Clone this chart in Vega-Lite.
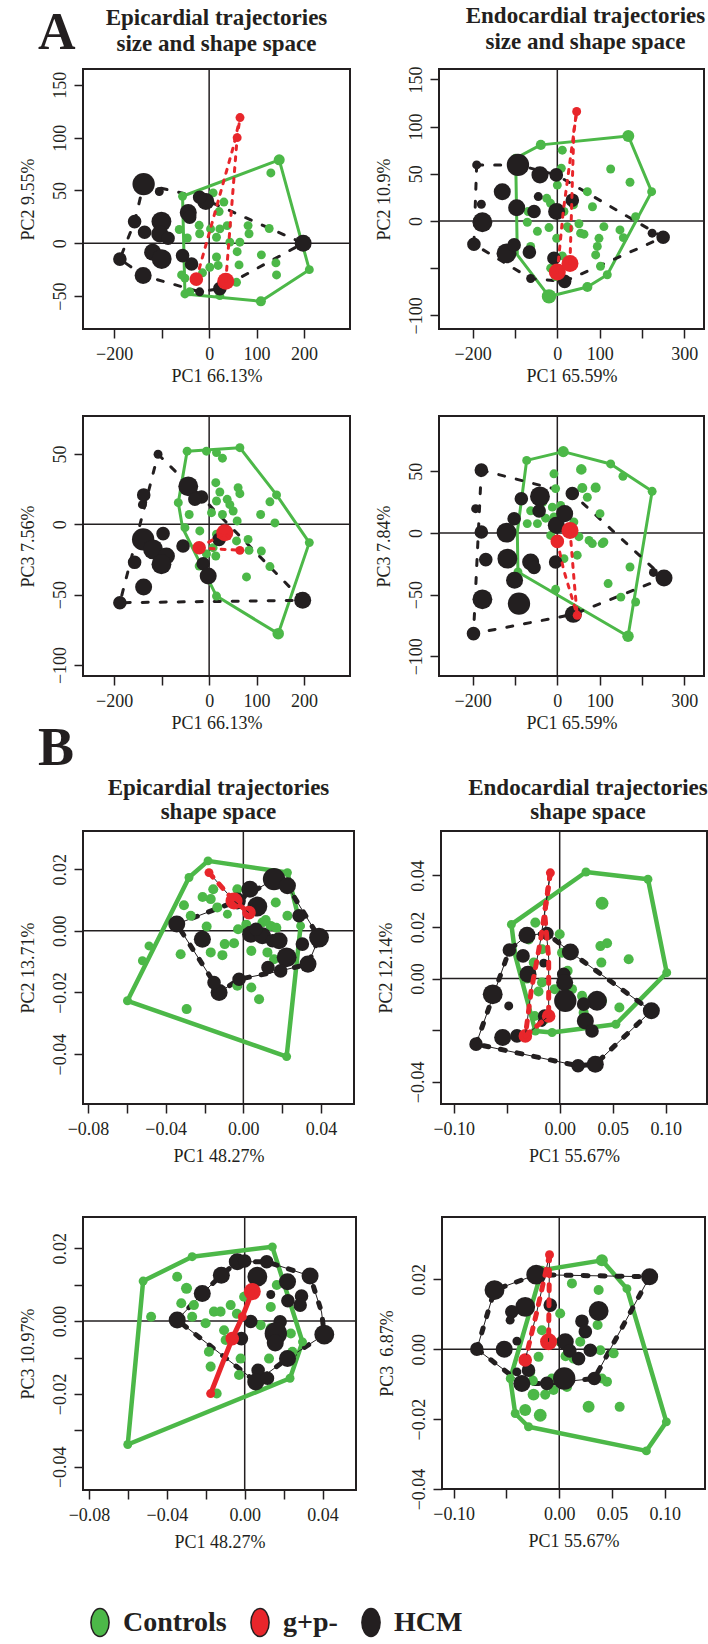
{
"$schema":"https://vega.github.io/schema/vega-lite/v6.json",
"padding":{"left":17,"top":3,"right":0,"bottom":0},
"background":"white",
"config":{
 "view":{"stroke":"#231f20","strokeWidth":2},
 "title":{"font":"Liberation Serif","fontSize":23,"fontWeight":"bold","color":"#231f20","lineHeight":26,"anchor":"middle"},
 "legend":{"labelFont":"Liberation Serif","labelFontWeight":"bold","labelFontSize":28,"labelColor":"#231f20"},
 "axis":{"domain":false,"grid":false,"tickColor":"#231f20","tickWidth":1.5,"tickSize":9,"labelFont":"Liberation Serif","labelFontSize":18,"labelColor":"#231f20","labelPadding":7,"labelFlush":false,"labelOverlap":false,"titleFont":"Liberation Serif","titleFontSize":18,"titleFontWeight":"normal","titleColor":"#231f20","titlePadding":4},
 "axisY":{"labelAngle":-90,"labelAlign":"center","labelBaseline":"bottom","labelPadding":5,"titlePadding":14}
},
"datasets":{
"p1":[
{"g":"Controls","x":147.6,"y":79,"w":1.4},{"g":"Controls","x":130,"y":66.6,"w":1},{"g":"Controls","x":-56,"y":44.5,"w":1},{"g":"Controls","x":8.4,"y":47.7,"w":1},{"g":"Controls","x":31,"y":39,"w":1},{"g":"Controls","x":21,"y":30,"w":1},{"g":"Controls","x":-21,"y":17,"w":1},{"g":"Controls","x":3,"y":13.6,"w":1},{"g":"Controls","x":22.5,"y":13.6,"w":1},{"g":"Controls","x":38,"y":16.7,"w":1},{"g":"Controls","x":-63,"y":13,"w":1},{"g":"Controls","x":-46,"y":5,"w":1},{"g":"Controls","x":-20,"y":9,"w":1},{"g":"Controls","x":15.5,"y":5.7,"w":1},{"g":"Controls","x":43.6,"y":1,"w":1},{"g":"Controls","x":64.7,"y":1,"w":1},{"g":"Controls","x":84,"y":9,"w":1},{"g":"Controls","x":82,"y":16.7,"w":1},{"g":"Controls","x":126.5,"y":14,"w":1},{"g":"Controls","x":110,"y":-11,"w":1},{"g":"Controls","x":140.6,"y":-18.6,"w":1},{"g":"Controls","x":142,"y":-30,"w":1},{"g":"Controls","x":63,"y":-20.5,"w":1},{"g":"Controls","x":59,"y":-8,"w":1},{"g":"Controls","x":15.5,"y":-13,"w":1},{"g":"Controls","x":19,"y":-21,"w":1},{"g":"Controls","x":1.4,"y":-22.7,"w":1},{"g":"Controls","x":-14,"y":-28,"w":1},{"g":"Controls","x":-51,"y":-33,"w":1},{"g":"Controls","x":-41,"y":-46,"w":1},{"g":"Controls","x":22.5,"y":-49.6,"w":1},{"g":"Controls","x":57.7,"y":-37,"w":1},{"g":"Controls","x":109,"y":-55,"w":1.2},{"g":"Controls","x":211,"y":-25,"w":1},{"g":"Controls","x":-58,"y":-30,"w":1},{"g":"Controls","x":-45,"y":29,"w":1},{"g":"Controls","x":-51,"y":-48,"w":1},
{"g":"HCM","x":-138,"y":56,"w":5},{"g":"HCM","x":-105,"y":49,"w":1},{"g":"HCM","x":-7,"y":39.5,"w":3},{"g":"HCM","x":-20,"y":43.6,"w":2},{"g":"HCM","x":-44,"y":29,"w":3},{"g":"HCM","x":-41,"y":24.6,"w":2},{"g":"HCM","x":-157,"y":20.5,"w":2},{"g":"HCM","x":-136,"y":10.4,"w":2},{"g":"HCM","x":-100.5,"y":20.5,"w":4},{"g":"HCM","x":-104,"y":8.8,"w":3},{"g":"HCM","x":-86.5,"y":4.7,"w":2},{"g":"HCM","x":-119,"y":-8.5,"w":3},{"g":"HCM","x":-100,"y":-15,"w":4},{"g":"HCM","x":-56,"y":-11.7,"w":2},{"g":"HCM","x":-37,"y":-19.6,"w":2},{"g":"HCM","x":-188,"y":-15,"w":2},{"g":"HCM","x":-139,"y":-30.6,"w":3},{"g":"HCM","x":22.5,"y":-43,"w":2},{"g":"HCM","x":198,"y":0,"w":3},{"g":"HCM","x":-20,"y":-46,"w":1},
{"g":"g+p-","x":-27,"y":-34,"w":2},{"g":"g+p-","x":35,"y":-36,"w":3},{"g":"g+p-","x":65,"y":119,"w":1},{"g":"g+p-","x":59,"y":100,"w":1}],
"p1g":[{"o":1,"x":-56,"y":44.5},{"o":2,"x":147.6,"y":79},{"o":3,"x":211,"y":-25},{"o":4,"x":109,"y":-55},{"o":5,"x":-51,"y":-48},{"o":6,"x":-56,"y":44.5}],
"p1b":[{"o":1,"x":-138,"y":56},{"o":2,"x":-20,"y":43.6},{"o":3,"x":198,"y":0},{"o":4,"x":22.5,"y":-43},{"o":5,"x":-20,"y":-46},{"o":6,"x":-139,"y":-30.6},{"o":7,"x":-188,"y":-15},{"o":8,"x":-157,"y":20.5},{"o":9,"x":-138,"y":56}],
"p1r":[{"t":1,"o":1,"x":-27,"y":-34},{"t":1,"o":2,"x":52,"y":93},{"t":1,"o":3,"x":65,"y":119},{"t":2,"o":1,"x":35,"y":-36},{"t":2,"o":2,"x":59,"y":100},{"t":2,"o":3,"x":65,"y":119}],
"p2":[
{"g":"Controls","x":11.8,"y":75,"w":1},{"g":"Controls","x":126,"y":55,"w":1},{"g":"Controls","x":171.7,"y":41,"w":1},{"g":"Controls","x":71,"y":31,"w":1},{"g":"Controls","x":38,"y":17,"w":1},{"g":"Controls","x":83,"y":15,"w":1},{"g":"Controls","x":-25,"y":24,"w":1},{"g":"Controls","x":-16,"y":18.7,"w":1},{"g":"Controls","x":15.7,"y":10,"w":1},{"g":"Controls","x":-69,"y":10,"w":1},{"g":"Controls","x":-70.9,"y":-1.4,"w":1},{"g":"Controls","x":-47,"y":-11,"w":1},{"g":"Controls","x":-19.7,"y":-7,"w":1},{"g":"Controls","x":23.6,"y":-6,"w":1},{"g":"Controls","x":51,"y":-3,"w":1},{"g":"Controls","x":63,"y":-14,"w":1},{"g":"Controls","x":55,"y":-13,"w":1},{"g":"Controls","x":110,"y":-6,"w":1},{"g":"Controls","x":148,"y":-9.5,"w":1},{"g":"Controls","x":156,"y":-17.7,"w":1},{"g":"Controls","x":98.4,"y":-18.4,"w":1},{"g":"Controls","x":94.5,"y":-27,"w":1},{"g":"Controls","x":90.6,"y":-36,"w":1},{"g":"Controls","x":102,"y":-48,"w":1},{"g":"Controls","x":-1.6,"y":-18.4,"w":1},{"g":"Controls","x":-63,"y":-27,"w":1},{"g":"Controls","x":11.8,"y":-37,"w":1},{"g":"Controls","x":-15.7,"y":-50,"w":1},{"g":"Controls","x":-4,"y":-59,"w":1},{"g":"Controls","x":27.6,"y":-7.8,"w":1},{"g":"Controls","x":0,"y":38,"w":1},{"g":"Controls","x":9.4,"y":55.8,"w":1},{"g":"Controls","x":185,"y":4.6,"w":1},{"g":"Controls","x":-39,"y":80.6,"w":1.2},{"g":"Controls","x":167.7,"y":90,"w":1.6},{"g":"Controls","x":222.8,"y":31,"w":1},{"g":"Controls","x":118,"y":-57,"w":1},{"g":"Controls","x":71,"y":-70,"w":1.2},{"g":"Controls","x":-19.7,"y":-80,"w":2.2},{"g":"Controls","x":-98.4,"y":66.4,"w":1},
{"g":"HCM","x":-93,"y":59.4,"w":5},{"g":"HCM","x":-190.5,"y":59.4,"w":1},{"g":"HCM","x":-41,"y":48.8,"w":3},{"g":"HCM","x":-2.4,"y":48.8,"w":2},{"g":"HCM","x":-130,"y":31,"w":3},{"g":"HCM","x":-45,"y":25.8,"w":1},{"g":"HCM","x":-96,"y":14,"w":3},{"g":"HCM","x":-55,"y":10,"w":2},{"g":"HCM","x":-1.6,"y":10,"w":3},{"g":"HCM","x":35.4,"y":22,"w":2},{"g":"HCM","x":-179.5,"y":17.7,"w":1},{"g":"HCM","x":-177,"y":-1.4,"w":4},{"g":"HCM","x":-197,"y":-24.7,"w":2},{"g":"HCM","x":-120,"y":-34.3,"w":4},{"g":"HCM","x":-102,"y":-25.4,"w":2},{"g":"HCM","x":-66,"y":-33,"w":2},{"g":"HCM","x":-8,"y":-39.6,"w":2},{"g":"HCM","x":17.3,"y":-64,"w":2},{"g":"HCM","x":-63,"y":-61,"w":1},{"g":"HCM","x":250,"y":-17.3,"w":2},{"g":"HCM","x":224,"y":-13,"w":1},
{"g":"g+p-","x":45.7,"y":116,"w":1},{"g":"g+p-","x":0,"y":-54,"w":3},{"g":"g+p-","x":29.9,"y":-45,"w":3}],
"p2g":[{"o":1,"x":-98.4,"y":66.4},{"o":2,"x":-39,"y":80.6},{"o":3,"x":167.7,"y":90},{"o":4,"x":222.8,"y":31},{"o":5,"x":118,"y":-57},{"o":6,"x":71,"y":-70},{"o":7,"x":-19.7,"y":-80},{"o":8,"x":-94.5,"y":-36},{"o":9,"x":-98.4,"y":66.4}],
"p2b":[{"o":1,"x":-190.5,"y":59.4},{"o":2,"x":-93,"y":59.4},{"o":3,"x":-2.4,"y":48.8},{"o":4,"x":250,"y":-17.3},{"o":5,"x":17.3,"y":-64},{"o":6,"x":-63,"y":-61},{"o":7,"x":-197,"y":-24.7},{"o":8,"x":-190.5,"y":59.4}],
"p2r":[{"t":1,"o":1,"x":0,"y":-54},{"t":1,"o":2,"x":14,"y":10},{"t":1,"o":3,"x":45.7,"y":116},{"t":2,"o":1,"x":29.9,"y":-45},{"t":2,"o":2,"x":39,"y":95},{"t":2,"o":3,"x":45.7,"y":116}],
"p3":[
{"g":"Controls","x":-65,"y":15.4,"w":1},{"g":"Controls","x":-42,"y":7,"w":1},{"g":"Controls","x":-51,"y":-2.4,"w":1},{"g":"Controls","x":-19.7,"y":-4.7,"w":1},{"g":"Controls","x":-5.6,"y":52,"w":1},{"g":"Controls","x":15.5,"y":51,"w":1},{"g":"Controls","x":28,"y":47,"w":1},{"g":"Controls","x":14,"y":29.6,"w":1},{"g":"Controls","x":22.5,"y":23,"w":1},{"g":"Controls","x":15.5,"y":16.6,"w":1},{"g":"Controls","x":5,"y":8.3,"w":1},{"g":"Controls","x":38,"y":17.8,"w":1},{"g":"Controls","x":43.6,"y":14,"w":1},{"g":"Controls","x":50.6,"y":9.5,"w":1},{"g":"Controls","x":61,"y":26,"w":1},{"g":"Controls","x":64.7,"y":21.8,"w":1},{"g":"Controls","x":59,"y":2.4,"w":1},{"g":"Controls","x":28,"y":7,"w":1},{"g":"Controls","x":15.5,"y":-7,"w":1},{"g":"Controls","x":8.4,"y":-16.6,"w":1},{"g":"Controls","x":22.5,"y":-10.7,"w":1},{"g":"Controls","x":57.7,"y":-11.8,"w":1},{"g":"Controls","x":82,"y":-10.7,"w":1},{"g":"Controls","x":84,"y":-18.5,"w":1},{"g":"Controls","x":110,"y":-19,"w":1},{"g":"Controls","x":128,"y":16,"w":1},{"g":"Controls","x":108.5,"y":7,"w":1},{"g":"Controls","x":138.5,"y":1,"w":1},{"g":"Controls","x":128,"y":-30,"w":1},{"g":"Controls","x":78.7,"y":-37.4,"w":1},{"g":"Controls","x":14,"y":-22.5,"w":1},{"g":"Controls","x":-21,"y":-29.6,"w":1},{"g":"Controls","x":-5.6,"y":-21,"w":1},{"g":"Controls","x":-46.4,"y":52,"w":1},{"g":"Controls","x":64.7,"y":54.5,"w":1},{"g":"Controls","x":142,"y":20.9,"w":1},{"g":"Controls","x":211,"y":-13,"w":1},{"g":"Controls","x":145.5,"y":-77.7,"w":1.5},{"g":"Controls","x":15.5,"y":-51,"w":1},
{"g":"HCM","x":-107.6,"y":49.8,"w":1},{"g":"HCM","x":-137.8,"y":20.9,"w":2},{"g":"HCM","x":-140.6,"y":14,"w":1},{"g":"HCM","x":-44,"y":27,"w":4},{"g":"HCM","x":-16,"y":19.4,"w":2},{"g":"HCM","x":-30,"y":17.8,"w":2},{"g":"HCM","x":-139,"y":-10.7,"w":5},{"g":"HCM","x":-118,"y":-17.8,"w":4},{"g":"HCM","x":-97,"y":-6.6,"w":2},{"g":"HCM","x":-90,"y":-22.5,"w":3},{"g":"HCM","x":-100.5,"y":-28.4,"w":4},{"g":"HCM","x":-157,"y":-27,"w":2},{"g":"HCM","x":-138,"y":-44.5,"w":3},{"g":"HCM","x":-188,"y":-55.7,"w":2},{"g":"HCM","x":-55,"y":-15.4,"w":2},{"g":"HCM","x":-12.6,"y":-28,"w":2},{"g":"HCM","x":-2,"y":-36.7,"w":3},{"g":"HCM","x":21,"y":-10.7,"w":2},{"g":"HCM","x":197,"y":-54,"w":3},
{"g":"g+p-","x":-21,"y":-16.6,"w":2},{"g":"g+p-","x":33,"y":-6,"w":3},{"g":"g+p-","x":64.7,"y":-18.5,"w":1}],
"p3g":[{"o":1,"x":-46.4,"y":52},{"o":2,"x":64.7,"y":54.5},{"o":3,"x":142,"y":20.9},{"o":4,"x":211,"y":-13},{"o":5,"x":145.5,"y":-77.7},{"o":6,"x":15.5,"y":-51},{"o":7,"x":-56,"y":-2.4},{"o":8,"x":-65,"y":15.4},{"o":9,"x":-46.4,"y":52}],
"p3b":[{"o":1,"x":-107.6,"y":49.8},{"o":2,"x":-16,"y":19.4},{"o":3,"x":197,"y":-54},{"o":4,"x":-188,"y":-55.7},{"o":5,"x":-107.6,"y":49.8}],
"p3r":[{"t":1,"o":1,"x":-21,"y":-16.6},{"t":1,"o":2,"x":33,"y":-6},{"t":1,"o":3,"x":48,"y":-12},{"t":2,"o":1,"x":-21,"y":-16.6},{"t":2,"o":2,"x":64.7,"y":-18.5}],
"p4":[
{"g":"Controls","x":-8,"y":48,"w":1},{"g":"Controls","x":56.7,"y":51.6,"w":1.3},{"g":"Controls","x":59,"y":36.5,"w":1.2},{"g":"Controls","x":90.6,"y":36.8,"w":1.2},{"g":"Controls","x":70.9,"y":29,"w":1},{"g":"Controls","x":100.8,"y":15.7,"w":1},{"g":"Controls","x":-4,"y":36,"w":1},{"g":"Controls","x":-35,"y":24.6,"w":1},{"g":"Controls","x":7.9,"y":22.4,"w":1},{"g":"Controls","x":-11.8,"y":21,"w":1},{"g":"Controls","x":-63,"y":18,"w":1},{"g":"Controls","x":-71,"y":7.6,"w":1},{"g":"Controls","x":-47,"y":7.6,"w":1},{"g":"Controls","x":-27.6,"y":12,"w":1},{"g":"Controls","x":-8,"y":13,"w":1},{"g":"Controls","x":39,"y":9,"w":1},{"g":"Controls","x":20,"y":14,"w":1},{"g":"Controls","x":-15.7,"y":-2,"w":1},{"g":"Controls","x":51,"y":-3,"w":1},{"g":"Controls","x":75,"y":-6,"w":1},{"g":"Controls","x":82.7,"y":-8.6,"w":1},{"g":"Controls","x":106,"y":-8.6,"w":1},{"g":"Controls","x":110,"y":-7.3,"w":1},{"g":"Controls","x":15.7,"y":-20.8,"w":1},{"g":"Controls","x":47,"y":-18,"w":1},{"g":"Controls","x":171.7,"y":-27.6,"w":1},{"g":"Controls","x":120,"y":-41,"w":1},{"g":"Controls","x":150,"y":-52,"w":1},{"g":"Controls","x":185,"y":-56,"w":1},{"g":"Controls","x":-4,"y":-45.7,"w":1},{"g":"Controls","x":155,"y":46,"w":1},{"g":"Controls","x":-72.4,"y":58.9,"w":1},{"g":"Controls","x":14,"y":66,"w":1.4},{"g":"Controls","x":126,"y":56,"w":1},{"g":"Controls","x":224,"y":33.8,"w":1},{"g":"Controls","x":167,"y":-83.8,"w":1.5},{"g":"Controls","x":-93,"y":-31.6,"w":1},
{"g":"HCM","x":-179.5,"y":51,"w":2},{"g":"HCM","x":-193,"y":19.7,"w":1},{"g":"HCM","x":-179.5,"y":0.8,"w":2},{"g":"HCM","x":-169,"y":-21.6,"w":2},{"g":"HCM","x":-198,"y":-81.6,"w":2},{"g":"HCM","x":-177,"y":-53.8,"w":4},{"g":"HCM","x":-90.6,"y":-57.3,"w":5},{"g":"HCM","x":-120,"y":0.3,"w":4},{"g":"HCM","x":-118,"y":-20.8,"w":4},{"g":"HCM","x":-101,"y":-38.4,"w":3},{"g":"HCM","x":-102,"y":11.6,"w":2},{"g":"HCM","x":-85,"y":27.8,"w":2},{"g":"HCM","x":-41,"y":29.7,"w":4},{"g":"HCM","x":-43,"y":17.8,"w":2},{"g":"HCM","x":-63,"y":-23.5,"w":3},{"g":"HCM","x":-55,"y":-28,"w":2},{"g":"HCM","x":-2.4,"y":6.2,"w":3},{"g":"HCM","x":17.3,"y":15.7,"w":3},{"g":"HCM","x":35.4,"y":32,"w":2},{"g":"HCM","x":-4,"y":-23.5,"w":2},{"g":"HCM","x":37.8,"y":-66,"w":3},{"g":"HCM","x":252,"y":-36.5,"w":3},{"g":"HCM","x":227,"y":-32,"w":1},
{"g":"g+p-","x":30,"y":2,"w":3},{"g":"g+p-","x":0,"y":-6.8,"w":2},{"g":"g+p-","x":47,"y":-66.8,"w":1}],
"p4g":[{"o":1,"x":-72.4,"y":58.9},{"o":2,"x":14,"y":66},{"o":3,"x":126,"y":56},{"o":4,"x":224,"y":33.8},{"o":5,"x":167,"y":-83.8},{"o":6,"x":-93,"y":-31.6},{"o":7,"x":-94.5,"y":0.8},{"o":8,"x":-72.4,"y":58.9}],
"p4b":[{"o":1,"x":-179.5,"y":51},{"o":2,"x":35.4,"y":32},{"o":3,"x":252,"y":-36.5},{"o":4,"x":37.8,"y":-66},{"o":5,"x":-198,"y":-81.6},{"o":6,"x":-179.5,"y":51}],
"p4r":[{"t":1,"o":1,"x":0,"y":-6.8},{"t":1,"o":2,"x":15,"y":-30},{"t":1,"o":3,"x":47,"y":-66.8},{"t":2,"o":1,"x":30,"y":2},{"t":2,"o":2,"x":40,"y":-40},{"t":2,"o":3,"x":47,"y":-66.8}],
"p5":[
{"g":"Controls","x":-0.0155,"y":0.0135,"w":1.2},{"g":"Controls","x":-0.0168,"y":0.0103,"w":1.2},{"g":"Controls","x":-0.0306,"y":0.0083,"w":1.2},{"g":"Controls","x":-0.0271,"y":0.0049,"w":1.2},{"g":"Controls","x":-0.0189,"y":0.0014,"w":1.2},{"g":"Controls","x":-0.0134,"y":0.0076,"w":1.2},{"g":"Controls","x":-0.0082,"y":0.0054,"w":1},{"g":"Controls","x":-0.0031,"y":0.0135,"w":1.2},{"g":"Controls","x":-0.0027,"y":0.0005,"w":1.2},{"g":"Controls","x":-0.0096,"y":-0.0043,"w":1.2},{"g":"Controls","x":-0.0048,"y":-0.004,"w":1.2},{"g":"Controls","x":-0.0168,"y":-0.007,"w":1.2},{"g":"Controls","x":-0.0108,"y":-0.0079,"w":1.2},{"g":"Controls","x":-0.0323,"y":-0.0076,"w":1.2},{"g":"Controls","x":0.0041,"y":-0.0065,"w":1.2},{"g":"Controls","x":0.0098,"y":0.0027,"w":1.2},{"g":"Controls","x":0.0141,"y":0.0016,"w":1.2},{"g":"Controls","x":0.0167,"y":0.0092,"w":1.2},{"g":"Controls","x":0.0124,"y":-0.007,"w":1.2},{"g":"Controls","x":0.0158,"y":-0.0092,"w":1.2},{"g":"Controls","x":0.0081,"y":-0.0222,"w":1.2},{"g":"Controls","x":-0.0292,"y":-0.0254,"w":1.2},{"g":"Controls","x":-0.0031,"y":-0.0178,"w":1.2},{"g":"Controls","x":0.0041,"y":-0.0184,"w":1.2},{"g":"Controls","x":0.0072,"y":0.007,"w":1.2},{"g":"Controls","x":0.0227,"y":0.0049,"w":1.2},{"g":"Controls","x":-0.0486,"y":-0.0049,"w":1},{"g":"Controls","x":-0.052,"y":-0.0097,"w":1},{"g":"Controls","x":0.0115,"y":0.0035,"w":1.2},{"g":"Controls","x":0.017,"y":0.001,"w":1.2},{"g":"Controls","x":0.0015,"y":0.002,"w":1.2},{"g":"Controls","x":-0.021,"y":0.011,"w":1.2},{"g":"Controls","x":-0.0182,"y":0.0227,"w":1},{"g":"Controls","x":0.0227,"y":0.0189,"w":1},{"g":"Controls","x":0.0295,"y":0.0016,"w":1},{"g":"Controls","x":0.0223,"y":-0.0408,"w":1},{"g":"Controls","x":-0.0597,"y":-0.0227,"w":1},{"g":"Controls","x":-0.028,"y":0.0173,"w":1},
{"g":"HCM","x":0.0158,"y":0.0168,"w":5},{"g":"HCM","x":0.0227,"y":0.0146,"w":3},{"g":"HCM","x":0.0034,"y":0.0135,"w":3},{"g":"HCM","x":0.0072,"y":0.0079,"w":4},{"g":"HCM","x":-0.0031,"y":0.0097,"w":3},{"g":"HCM","x":-0.0343,"y":0.0022,"w":3},{"g":"HCM","x":-0.0211,"y":-0.0027,"w":3},{"g":"HCM","x":0.0038,"y":-0.0011,"w":3},{"g":"HCM","x":0.0098,"y":-0.0016,"w":3},{"g":"HCM","x":0.015,"y":-0.0032,"w":2},{"g":"HCM","x":0.0184,"y":-0.0032,"w":3},{"g":"HCM","x":0.039,"y":-0.0022,"w":4},{"g":"HCM","x":0.0304,"y":-0.0043,"w":2},{"g":"HCM","x":0.0223,"y":-0.0086,"w":4},{"g":"HCM","x":0.0333,"y":-0.0108,"w":3},{"g":"HCM","x":0.0192,"y":-0.013,"w":2},{"g":"HCM","x":0.0127,"y":-0.0119,"w":2},{"g":"HCM","x":-0.0022,"y":-0.0157,"w":2},{"g":"HCM","x":-0.0125,"y":-0.02,"w":3},{"g":"HCM","x":-0.0151,"y":-0.0168,"w":2},{"g":"HCM","x":0.0287,"y":0.0049,"w":2},{"g":"HCM","x":0.0065,"y":0.0005,"w":2},
{"g":"g+p-","x":-0.0177,"y":0.0189,"w":1},{"g":"g+p-","x":-0.0048,"y":0.0097,"w":3},{"g":"g+p-","x":0.0029,"y":0.0059,"w":2}],
"p5g":[{"o":1,"x":-0.0182,"y":0.0227},{"o":2,"x":0.0227,"y":0.0189},{"o":3,"x":0.0295,"y":0.0016},{"o":4,"x":0.0223,"y":-0.0408},{"o":5,"x":-0.0597,"y":-0.0227},{"o":6,"x":-0.028,"y":0.0173},{"o":7,"x":-0.0182,"y":0.0227}],
"p5b":[{"o":1,"x":-0.0343,"y":0.0022},{"o":2,"x":-0.0031,"y":0.0097},{"o":3,"x":0.0158,"y":0.0168},{"o":4,"x":0.0227,"y":0.0146},{"o":5,"x":0.039,"y":-0.0022},{"o":6,"x":0.0333,"y":-0.0108},{"o":7,"x":0.0192,"y":-0.013},{"o":8,"x":-0.0022,"y":-0.0157},{"o":9,"x":-0.0125,"y":-0.02},{"o":10,"x":-0.0151,"y":-0.0168},{"o":11,"x":-0.0343,"y":0.0022}],
"p5r":[{"t":1,"o":1,"x":-0.0177,"y":0.0189},{"t":1,"o":2,"x":-0.0048,"y":0.0097},{"t":1,"o":3,"x":0.0029,"y":0.0059}],
"p6":[
{"g":"Controls","x":0.04,"y":0.0292,"w":1.8},{"g":"Controls","x":0.0384,"y":0.0126,"w":1.2},{"g":"Controls","x":0.0447,"y":0.0137,"w":1.2},{"g":"Controls","x":0.0393,"y":0.0062,"w":1.2},{"g":"Controls","x":0.0651,"y":0.0075,"w":1.2},{"g":"Controls","x":-0.0292,"y":0.0152,"w":1.2},{"g":"Controls","x":-0.023,"y":0.0217,"w":1.2},{"g":"Controls","x":0,"y":0.0172,"w":1.2},{"g":"Controls","x":-0.0167,"y":0.0114,"w":1.2},{"g":"Controls","x":-0.0245,"y":0.0062,"w":1.2},{"g":"Controls","x":-0.0167,"y":-0.0015,"w":1.2},{"g":"Controls","x":-0.0047,"y":-0.0041,"w":1.2},{"g":"Controls","x":0.0116,"y":-0.0041,"w":1.2},{"g":"Controls","x":0.0211,"y":-0.0067,"w":1.2},{"g":"Controls","x":0.0305,"y":-0.008,"w":1.2},{"g":"Controls","x":0.04,"y":-0.0086,"w":1.2},{"g":"Controls","x":0.0563,"y":-0.0112,"w":1.2},{"g":"Controls","x":0.0226,"y":-0.0132,"w":1.2},{"g":"Controls","x":0.0022,"y":0.01,"w":1.2},{"g":"Controls","x":0.0123,"y":0.01,"w":1.2},{"g":"Controls","x":-0.0236,"y":-0.0145,"w":1.2},{"g":"Controls","x":-0.015,"y":-0.016,"w":1.2},{"g":"Controls","x":-0.031,"y":0,"w":1.2},{"g":"Controls","x":-0.02,"y":-0.005,"w":1.2},{"g":"Controls","x":0.0075,"y":0.003,"w":1.2},{"g":"Controls","x":-0.0456,"y":0.021,"w":1},{"g":"Controls","x":0.0248,"y":0.0413,"w":1},{"g":"Controls","x":0.0833,"y":0.0385,"w":1},{"g":"Controls","x":0.101,"y":0.0023,"w":1},{"g":"Controls","x":0.053,"y":-0.0177,"w":1},{"g":"Controls","x":-0.0072,"y":-0.0209,"w":1},{"g":"Controls","x":-0.023,"y":-0.0203,"w":1},
{"g":"HCM","x":-0.0308,"y":0.0168,"w":3},{"g":"HCM","x":-0.012,"y":0.0175,"w":2},{"g":"HCM","x":-0.0475,"y":0.0111,"w":2},{"g":"HCM","x":-0.0346,"y":0.0088,"w":2},{"g":"HCM","x":0.0101,"y":0.0103,"w":3},{"g":"HCM","x":-0.0299,"y":0.0017,"w":3},{"g":"HCM","x":-0.0151,"y":0.006,"w":1},{"g":"HCM","x":0.0038,"y":0.0017,"w":2},{"g":"HCM","x":0.0047,"y":-0.0015,"w":3},{"g":"HCM","x":-0.0632,"y":-0.0061,"w":4},{"g":"HCM","x":-0.0481,"y":-0.0106,"w":1},{"g":"HCM","x":0.0053,"y":-0.0086,"w":5},{"g":"HCM","x":0.0352,"y":-0.0086,"w":4},{"g":"HCM","x":0.0226,"y":-0.0099,"w":2},{"g":"HCM","x":0.0242,"y":-0.0164,"w":3},{"g":"HCM","x":0.0865,"y":-0.0125,"w":3},{"g":"HCM","x":0.0305,"y":-0.0203,"w":2},{"g":"HCM","x":-0.0142,"y":-0.0145,"w":2},{"g":"HCM","x":-0.0538,"y":-0.0228,"w":3},{"g":"HCM","x":-0.0403,"y":-0.0222,"w":2},{"g":"HCM","x":-0.0789,"y":-0.0254,"w":2},{"g":"HCM","x":0.0173,"y":-0.0338,"w":2},{"g":"HCM","x":0.0336,"y":-0.0332,"w":3},{"g":"HCM","x":-0.0167,"y":-0.017,"w":1},
{"g":"g+p-","x":-0.0088,"y":0.041,"w":1},{"g":"g+p-","x":-0.0104,"y":-0.0145,"w":2},{"g":"g+p-","x":-0.0324,"y":-0.0222,"w":2}],
"p6g":[{"o":1,"x":-0.0456,"y":0.021},{"o":2,"x":0.0248,"y":0.0413},{"o":3,"x":0.0833,"y":0.0385},{"o":4,"x":0.101,"y":0.0023},{"o":5,"x":0.053,"y":-0.0177},{"o":6,"x":-0.0072,"y":-0.0209},{"o":7,"x":-0.023,"y":-0.0203},{"o":8,"x":-0.0418,"y":0.0088},{"o":9,"x":-0.0456,"y":0.021}],
"p6b":[{"o":1,"x":-0.0789,"y":-0.0254},{"o":2,"x":-0.0475,"y":0.0111},{"o":3,"x":-0.0308,"y":0.0168},{"o":4,"x":-0.012,"y":0.0175},{"o":5,"x":0.0101,"y":0.0103},{"o":6,"x":0.0865,"y":-0.0125},{"o":7,"x":0.0336,"y":-0.0332},{"o":8,"x":0.0173,"y":-0.0338},{"o":9,"x":-0.0789,"y":-0.0254}],
"p6r":[{"t":1,"o":1,"x":-0.0088,"y":0.041},{"t":1,"o":2,"x":-0.0142,"y":0.0254},{"t":1,"o":3,"x":-0.0104,"y":0.008},{"t":1,"o":4,"x":-0.0104,"y":-0.0145},{"t":2,"o":1,"x":-0.0088,"y":0.041},{"t":2,"o":2,"x":-0.018,"y":0.015},{"t":2,"o":3,"x":-0.027,"y":-0.005},{"t":2,"o":4,"x":-0.0324,"y":-0.0222},{"t":3,"o":1,"x":-0.0324,"y":-0.0222},{"t":3,"o":2,"x":-0.0104,"y":-0.0145}],
"p7":[
{"g":"Controls","x":-0.0347,"y":0.0122,"w":1.2},{"g":"Controls","x":-0.0299,"y":0.009,"w":1.4},{"g":"Controls","x":-0.0326,"y":0.0049,"w":1.2},{"g":"Controls","x":-0.0261,"y":0.0044,"w":1.2},{"g":"Controls","x":-0.0481,"y":0.0012,"w":1.2},{"g":"Controls","x":-0.027,"y":0.0012,"w":1.2},{"g":"Controls","x":-0.0201,"y":-0.0006,"w":1.2},{"g":"Controls","x":-0.0158,"y":0.0026,"w":1.2},{"g":"Controls","x":-0.0124,"y":0.0026,"w":1.2},{"g":"Controls","x":-0.0184,"y":-0.0084,"w":1.2},{"g":"Controls","x":-0.0175,"y":-0.0125,"w":1.2},{"g":"Controls","x":-0.0106,"y":-0.0025,"w":1.2},{"g":"Controls","x":-0.0098,"y":-0.0052,"w":1.2},{"g":"Controls","x":-0.0021,"y":-0.0103,"w":1.2},{"g":"Controls","x":-0.0029,"y":-0.0148,"w":1.2},{"g":"Controls","x":-0.0072,"y":0.0044,"w":1.2},{"g":"Controls","x":-0.0003,"y":0.0067,"w":1.2},{"g":"Controls","x":0.0134,"y":0.0039,"w":1.2},{"g":"Controls","x":0.0082,"y":-0.0011,"w":1.2},{"g":"Controls","x":0.0134,"y":-0.002,"w":1.2},{"g":"Controls","x":0.0125,"y":-0.0103,"w":1.2},{"g":"Controls","x":0.0165,"y":0.0099,"w":1.2},{"g":"Controls","x":0.0237,"y":-0.0034,"w":1.2},{"g":"Controls","x":0.0245,"y":-0.0084,"w":1.2},{"g":"Controls","x":-0.0144,"y":-0.0199,"w":1.2},{"g":"Controls","x":-0.004,"y":0.002,"w":1.2},{"g":"Controls","x":-0.023,"y":0.007,"w":1.2},{"g":"Controls","x":-0.0522,"y":0.011,"w":1},{"g":"Controls","x":-0.027,"y":0.0177,"w":1},{"g":"Controls","x":0.0142,"y":0.0204,"w":1},{"g":"Controls","x":0.0297,"y":-0.0057,"w":1},{"g":"Controls","x":0.0233,"y":-0.0157,"w":1},{"g":"Controls","x":-0.0601,"y":-0.0339,"w":1},
{"g":"HCM","x":-0.0038,"y":0.0163,"w":3},{"g":"HCM","x":0,"y":0.0165,"w":2},{"g":"HCM","x":-0.012,"y":0.0126,"w":3},{"g":"HCM","x":-0.0218,"y":0.0076,"w":3},{"g":"HCM","x":-0.0347,"y":0.0003,"w":3},{"g":"HCM","x":0.0065,"y":0.0122,"w":4},{"g":"HCM","x":0.0113,"y":0.0163,"w":2},{"g":"HCM","x":0.022,"y":0.0108,"w":3},{"g":"HCM","x":0.0336,"y":0.0124,"w":3},{"g":"HCM","x":0.0134,"y":0.0073,"w":1},{"g":"HCM","x":0.0292,"y":0.0069,"w":2},{"g":"HCM","x":0.0285,"y":0.0044,"w":2},{"g":"HCM","x":0.0182,"y":-0.0002,"w":2},{"g":"HCM","x":0.016,"y":-0.0034,"w":5},{"g":"HCM","x":0.022,"y":-0.0103,"w":3},{"g":"HCM","x":0.0409,"y":-0.0037,"w":4},{"g":"HCM","x":0.0031,"y":-0.0001,"w":2},{"g":"HCM","x":-0.0017,"y":-0.0048,"w":2},{"g":"HCM","x":0.0069,"y":-0.0135,"w":2},{"g":"HCM","x":0.0057,"y":-0.0167,"w":3},{"g":"HCM","x":0.0117,"y":-0.0157,"w":2},{"g":"HCM","x":0.0157,"y":-0.006,"w":3},{"g":"HCM","x":0.0222,"y":0.0056,"w":2},
{"g":"g+p-","x":-0.0175,"y":-0.0199,"w":1},{"g":"g+p-","x":0.0039,"y":0.0081,"w":3},{"g":"g+p-","x":-0.0012,"y":0.0012,"w":1},{"g":"g+p-","x":-0.0064,"y":-0.0048,"w":2}],
"p7g":[{"o":1,"x":-0.0522,"y":0.011},{"o":2,"x":-0.027,"y":0.0177},{"o":3,"x":0.0142,"y":0.0204},{"o":4,"x":0.0297,"y":-0.0057},{"o":5,"x":0.0233,"y":-0.0157},{"o":6,"x":-0.0601,"y":-0.0339},{"o":7,"x":-0.0522,"y":0.011}],
"p7b":[{"o":1,"x":-0.0347,"y":0.0003},{"o":2,"x":-0.0218,"y":0.0076},{"o":3,"x":-0.012,"y":0.0126},{"o":4,"x":-0.0038,"y":0.0163},{"o":5,"x":0.0113,"y":0.0163},{"o":6,"x":0.0336,"y":0.0124},{"o":7,"x":0.0395,"y":0.0025},{"o":8,"x":0.0409,"y":-0.0037},{"o":9,"x":0.022,"y":-0.0103},{"o":10,"x":0.0057,"y":-0.0167},{"o":11,"x":-0.0012,"y":-0.0137},{"o":12,"x":-0.0347,"y":0.0003}],
"p7r":[{"t":1,"o":1,"x":-0.0175,"y":-0.0199},{"t":1,"o":2,"x":-0.0064,"y":-0.0048},{"t":1,"o":3,"x":-0.0012,"y":0.0012},{"t":1,"o":4,"x":0.0039,"y":0.0081}],
"p8":[
{"g":"Controls","x":0.012,"y":0.0188,"w":1.2},{"g":"Controls","x":0.0373,"y":0.0169,"w":1.2},{"g":"Controls","x":0.0009,"y":0.0102,"w":1.2},{"g":"Controls","x":0.0363,"y":0.0069,"w":1.2},{"g":"Controls","x":0.0199,"y":0.0021,"w":1.2},{"g":"Controls","x":0.0389,"y":-0.0003,"w":1.2},{"g":"Controls","x":0.0515,"y":-0.0012,"w":1.2},{"g":"Controls","x":0.0404,"y":-0.0084,"w":1.2},{"g":"Controls","x":0.0452,"y":-0.0093,"w":1.2},{"g":"Controls","x":0.0278,"y":-0.0165,"w":1.6},{"g":"Controls","x":0.0572,"y":-0.0165,"w":1.2},{"g":"Controls","x":-0.0054,"y":-0.0117,"w":1.2},{"g":"Controls","x":-0.0133,"y":-0.013,"w":1.2},{"g":"Controls","x":-0.0243,"y":-0.013,"w":1.6},{"g":"Controls","x":-0.0322,"y":-0.0174,"w":1.6},{"g":"Controls","x":-0.018,"y":-0.0189,"w":1.8},{"g":"Controls","x":-0.0275,"y":-0.0065,"w":1.2},{"g":"Controls","x":-0.0196,"y":-0.0022,"w":1.2},{"g":"Controls","x":-0.007,"y":-0.0084,"w":1.2},{"g":"Controls","x":0.0073,"y":-0.0108,"w":1.2},{"g":"Controls","x":0.0136,"y":-0.0027,"w":1.2},{"g":"Controls","x":0.0009,"y":0.0021,"w":1.2},{"g":"Controls","x":-0.0164,"y":0.0054,"w":1.2},{"g":"Controls","x":0.006,"y":-0.002,"w":1.2},{"g":"Controls","x":-0.025,"y":-0.009,"w":1.2},{"g":"Controls","x":-0.0164,"y":0.0226,"w":1},{"g":"Controls","x":0.0404,"y":0.0254,"w":1.6},{"g":"Controls","x":0.0641,"y":0.0173,"w":1},{"g":"Controls","x":0.1014,"y":-0.0208,"w":1},{"g":"Controls","x":0.0825,"y":-0.0291,"w":1},{"g":"Controls","x":-0.0291,"y":-0.0222,"w":1},{"g":"Controls","x":-0.0417,"y":-0.0184,"w":1},{"g":"Controls","x":-0.0464,"y":-0.0084,"w":1},
{"g":"HCM","x":-0.0218,"y":0.0213,"w":4},{"g":"HCM","x":-0.0613,"y":0.0169,"w":4},{"g":"HCM","x":-0.0322,"y":0.0121,"w":4},{"g":"HCM","x":-0.0449,"y":0.0107,"w":2},{"g":"HCM","x":-0.0465,"y":0.0083,"w":1},{"g":"HCM","x":-0.0085,"y":0.0126,"w":2},{"g":"HCM","x":0.0373,"y":0.0109,"w":4},{"g":"HCM","x":0.0215,"y":0.008,"w":2},{"g":"HCM","x":0.0247,"y":0.005,"w":2},{"g":"HCM","x":0.0856,"y":0.0207,"w":3},{"g":"HCM","x":0.0057,"y":0.0021,"w":3},{"g":"HCM","x":0.01,"y":-0.0005,"w":2},{"g":"HCM","x":-0.0521,"y":0,"w":3},{"g":"HCM","x":-0.078,"y":0,"w":2},{"g":"HCM","x":-0.0401,"y":0.0023,"w":1},{"g":"HCM","x":0.0183,"y":-0.0027,"w":2},{"g":"HCM","x":0.0294,"y":-0.0003,"w":2},{"g":"HCM","x":0.0047,"y":-0.0084,"w":5},{"g":"HCM","x":-0.0291,"y":-0.006,"w":2},{"g":"HCM","x":-0.0354,"y":-0.0098,"w":3},{"g":"HCM","x":-0.0117,"y":-0.0098,"w":2},{"g":"HCM","x":0.0332,"y":-0.0084,"w":2},{"g":"HCM","x":-0.0401,"y":-0.0065,"w":1},
{"g":"g+p-","x":-0.0092,"y":0.027,"w":1},{"g":"g+p-","x":-0.0101,"y":0.0021,"w":3},{"g":"g+p-","x":-0.0322,"y":-0.0031,"w":2}],
"p8g":[{"o":1,"x":-0.0164,"y":0.0226},{"o":2,"x":0.0404,"y":0.0254},{"o":3,"x":0.0641,"y":0.0173},{"o":4,"x":0.1014,"y":-0.0208},{"o":5,"x":0.0825,"y":-0.0291},{"o":6,"x":-0.0291,"y":-0.0222},{"o":7,"x":-0.0417,"y":-0.0184},{"o":8,"x":-0.0464,"y":-0.0084},{"o":9,"x":-0.0164,"y":0.0226}],
"p8b":[{"o":1,"x":-0.078,"y":0},{"o":2,"x":-0.0613,"y":0.0169},{"o":3,"x":-0.0218,"y":0.0213},{"o":4,"x":0.0856,"y":0.0207},{"o":5,"x":0.0332,"y":-0.0084},{"o":6,"x":-0.0117,"y":-0.0098},{"o":7,"x":-0.0354,"y":-0.0098},{"o":8,"x":-0.078,"y":0}],
"p8r":[{"t":1,"o":1,"x":-0.0092,"y":0.027},{"t":1,"o":2,"x":-0.0101,"y":0.0021},{"t":2,"o":1,"x":-0.0092,"y":0.027},{"t":2,"o":2,"x":-0.0212,"y":0.0107},{"t":2,"o":3,"x":-0.0322,"y":-0.0031}]
},
"spacing":-11,
"vconcat":[
{"title":{"text":"A","anchor":"start","frame":"bounds","fontSize":52,"dx":20,"dy":56,"offset":0},
 "spacing":28,
 "vconcat":[
 {"spacing":22,"hconcat":[
  {"width":267,"height":260,"title":{"text":["Epicardial trajectories","size and shape space"],"offset":12},
   "layer":[
    {"data":{"values":[{}]},"mark":{"type":"rule","color":"#231f20","strokeWidth":1.5},"encoding":{"x":{"datum":0,"type":"quantitative"}}},
    {"data":{"values":[{}]},"mark":{"type":"rule","color":"#231f20","strokeWidth":1.5},"encoding":{"y":{"datum":0,"type":"quantitative"}}},
    {"data":{"name":"p1g"},"mark":{"type":"line","color":"#4cb848","strokeWidth":3,"strokeJoin":"round"},"encoding":{"x":{"field":"x","type":"quantitative","scale":{"domain":[-265.7,296.7],"nice":false,"zero":false},"axis":{"title":"PC1 66.13%","values":[-200,-100,0,100,200],"format":"d","labelExpr":"datum.value == -100 ? '' : datum.label"}},"y":{"field":"y","type":"quantitative","scale":{"domain":[-81.2,165],"nice":false,"zero":false},"axis":{"title":"PC2 9.55%","values":[-50,0,50,100,150],"format":"d"}},"order":{"field":"o","type":"quantitative"}}},
    {"data":{"name":"p1b"},"mark":{"type":"line","color":"#231f20","strokeWidth":3,"strokeDash":[6,12],"strokeCap":"round"},"encoding":{"x":{"field":"x","type":"quantitative"},"y":{"field":"y","type":"quantitative"},"order":{"field":"o","type":"quantitative"}}},
    {"data":{"name":"p1"},"mark":{"type":"circle","opacity":1},"encoding":{"x":{"field":"x","type":"quantitative"},"y":{"field":"y","type":"quantitative"},"color":{"field":"g","type":"nominal","scale":{"domain":["Controls","g+p-","HCM"],"range":["#4cb848","#e8262b","#231f20"]},"legend":{"title":null,"orient":"none","legendX":2,"legendY":1538,"direction":"horizontal","symbolType":"M-0.65,0A0.65,1,0,1,0,0.65,0A0.65,1,0,1,0,-0.65,0Z","symbolSize":784,"symbolStrokeColor":"#231f20","symbolStrokeWidth":1.5,"symbolOpacity":1,"labelFont":"Liberation Serif","labelFontSize":28,"labelFontWeight":"bold","labelColor":"#231f20","labelOffset":8,"columnPadding":18,"padding":0,"labelLimit":0}},"size":{"field":"w","type":"quantitative","scale":{"domain":[1,5],"range":[80,500],"zero":false},"legend":null}}},
    {"data":{"name":"p1r"},"mark":{"type":"line","color":"#e8262b","strokeWidth":3,"strokeDash":[4,7],"strokeCap":"round"},"encoding":{"x":{"field":"x","type":"quantitative"},"y":{"field":"y","type":"quantitative"},"detail":{"field":"t","type":"nominal"},"order":{"field":"o","type":"quantitative"}}}
   ]},
  {"width":265,"height":260,"title":{"text":["Endocardial trajectories","size and shape space"],"offset":12,"dx":14},
   "layer":[
    {"data":{"values":[{}]},"mark":{"type":"rule","color":"#231f20","strokeWidth":1.5},"encoding":{"x":{"datum":0,"type":"quantitative"}}},
    {"data":{"values":[{}]},"mark":{"type":"rule","color":"#231f20","strokeWidth":1.5},"encoding":{"y":{"datum":0,"type":"quantitative"}}},
    {"data":{"name":"p2g"},"mark":{"type":"line","color":"#4cb848","strokeWidth":3,"strokeJoin":"round"},"encoding":{"x":{"field":"x","type":"quantitative","scale":{"domain":[-279.5,346.5],"nice":false,"zero":false},"axis":{"title":"PC1 65.59%","values":[-200,-100,0,100,200,300],"format":"d","labelExpr":"datum.value == -100 || datum.value == 200 ? '' : datum.label"}},"y":{"field":"y","type":"quantitative","scale":{"domain":[-114.5,161],"nice":false,"zero":false},"axis":{"title":"PC2 10.9%","values":[-100,-50,0,50,100,150],"format":"d","labelExpr":"datum.value == -50 ? '' : datum.label"}},"order":{"field":"o","type":"quantitative"}}},
    {"data":{"name":"p2b"},"mark":{"type":"line","color":"#231f20","strokeWidth":3,"strokeDash":[6,12],"strokeCap":"round"},"encoding":{"x":{"field":"x","type":"quantitative"},"y":{"field":"y","type":"quantitative"},"order":{"field":"o","type":"quantitative"}}},
    {"data":{"name":"p2"},"mark":{"type":"circle","opacity":1},"encoding":{"x":{"field":"x","type":"quantitative"},"y":{"field":"y","type":"quantitative"},"color":{"field":"g","type":"nominal","scale":{"domain":["Controls","g+p-","HCM"],"range":["#4cb848","#e8262b","#231f20"]},"legend":{"title":null}},"size":{"field":"w","type":"quantitative","scale":{"domain":[1,5],"range":[80,500],"zero":false},"legend":null}}},
    {"data":{"name":"p2r"},"mark":{"type":"line","color":"#e8262b","strokeWidth":3,"strokeDash":[4,7],"strokeCap":"round"},"encoding":{"x":{"field":"x","type":"quantitative"},"y":{"field":"y","type":"quantitative"},"detail":{"field":"t","type":"nominal"},"order":{"field":"o","type":"quantitative"}}}
   ]}
 ]},
 {"spacing":22,"hconcat":[
  {"width":267,"height":260,
   "layer":[
    {"data":{"values":[{}]},"mark":{"type":"rule","color":"#231f20","strokeWidth":1.5},"encoding":{"x":{"datum":0,"type":"quantitative"}}},
    {"data":{"values":[{}]},"mark":{"type":"rule","color":"#231f20","strokeWidth":1.5},"encoding":{"y":{"datum":0,"type":"quantitative"}}},
    {"data":{"name":"p3g"},"mark":{"type":"line","color":"#4cb848","strokeWidth":3,"strokeJoin":"round"},"encoding":{"x":{"field":"x","type":"quantitative","scale":{"domain":[-265.7,296.7],"nice":false,"zero":false},"axis":{"title":"PC1 66.13%","values":[-200,-100,0,100,200],"format":"d","labelExpr":"datum.value == -100 ? '' : datum.label"}},"y":{"field":"y","type":"quantitative","scale":{"domain":[-107.8,77],"nice":false,"zero":false},"axis":{"title":"PC3 7.56%","values":[-100,-50,0,50],"format":"d"}},"order":{"field":"o","type":"quantitative"}}},
    {"data":{"name":"p3b"},"mark":{"type":"line","color":"#231f20","strokeWidth":3,"strokeDash":[6,12],"strokeCap":"round"},"encoding":{"x":{"field":"x","type":"quantitative"},"y":{"field":"y","type":"quantitative"},"order":{"field":"o","type":"quantitative"}}},
    {"data":{"name":"p3"},"mark":{"type":"circle","opacity":1},"encoding":{"x":{"field":"x","type":"quantitative"},"y":{"field":"y","type":"quantitative"},"color":{"field":"g","type":"nominal","scale":{"domain":["Controls","g+p-","HCM"],"range":["#4cb848","#e8262b","#231f20"]},"legend":{"title":null}},"size":{"field":"w","type":"quantitative","scale":{"domain":[1,5],"range":[80,500],"zero":false},"legend":null}}},
    {"data":{"name":"p3r"},"mark":{"type":"line","color":"#e8262b","strokeWidth":3,"strokeDash":[4,7],"strokeCap":"round"},"encoding":{"x":{"field":"x","type":"quantitative"},"y":{"field":"y","type":"quantitative"},"detail":{"field":"t","type":"nominal"},"order":{"field":"o","type":"quantitative"}}}
   ]},
  {"width":265,"height":260,
   "layer":[
    {"data":{"values":[{}]},"mark":{"type":"rule","color":"#231f20","strokeWidth":1.5},"encoding":{"x":{"datum":0,"type":"quantitative"}}},
    {"data":{"values":[{}]},"mark":{"type":"rule","color":"#231f20","strokeWidth":1.5},"encoding":{"y":{"datum":0,"type":"quantitative"}}},
    {"data":{"name":"p4g"},"mark":{"type":"line","color":"#4cb848","strokeWidth":3,"strokeJoin":"round"},"encoding":{"x":{"field":"x","type":"quantitative","scale":{"domain":[-279.5,346.5],"nice":false,"zero":false},"axis":{"title":"PC1 65.59%","values":[-200,-100,0,100,200,300],"format":"d","labelExpr":"datum.value == -100 || datum.value == 200 ? '' : datum.label"}},"y":{"field":"y","type":"quantitative","scale":{"domain":[-116,94.9],"nice":false,"zero":false},"axis":{"title":"PC3 7.84%","values":[-100,-50,0,50],"format":"d"}},"order":{"field":"o","type":"quantitative"}}},
    {"data":{"name":"p4b"},"mark":{"type":"line","color":"#231f20","strokeWidth":3,"strokeDash":[6,12],"strokeCap":"round"},"encoding":{"x":{"field":"x","type":"quantitative"},"y":{"field":"y","type":"quantitative"},"order":{"field":"o","type":"quantitative"}}},
    {"data":{"name":"p4"},"mark":{"type":"circle","opacity":1},"encoding":{"x":{"field":"x","type":"quantitative"},"y":{"field":"y","type":"quantitative"},"color":{"field":"g","type":"nominal","scale":{"domain":["Controls","g+p-","HCM"],"range":["#4cb848","#e8262b","#231f20"]},"legend":{"title":null}},"size":{"field":"w","type":"quantitative","scale":{"domain":[1,5],"range":[80,500],"zero":false},"legend":null}}},
    {"data":{"name":"p4r"},"mark":{"type":"line","color":"#e8262b","strokeWidth":3,"strokeDash":[4,7],"strokeCap":"round"},"encoding":{"x":{"field":"x","type":"quantitative"},"y":{"field":"y","type":"quantitative"},"detail":{"field":"t","type":"nominal"},"order":{"field":"o","type":"quantitative"}}}
   ]}
 ]}
 ]},
{"title":{"text":"B","anchor":"start","frame":"bounds","fontSize":54,"dx":20,"offset":0},
 "spacing":49,
 "vconcat":[
 {"spacing":19,"hconcat":[
  {"width":271,"height":273,"title":{"text":["Epicardial trajectories","shape space"],"offset":6,"lineHeight":24},
   "layer":[
    {"data":{"values":[{}]},"mark":{"type":"rule","color":"#231f20","strokeWidth":1.5},"encoding":{"x":{"datum":0,"type":"quantitative"}}},
    {"data":{"values":[{}]},"mark":{"type":"rule","color":"#231f20","strokeWidth":1.5},"encoding":{"y":{"datum":0,"type":"quantitative"}}},
    {"data":{"name":"p5g"},"mark":{"type":"line","color":"#4cb848","strokeWidth":4.5,"strokeJoin":"round"},"encoding":{"x":{"field":"x","type":"quantitative","scale":{"domain":[-0.0826,0.057],"nice":false,"zero":false},"axis":{"title":"PC1 48.27%","titlePadding":9,"values":[-0.08,-0.06,-0.04,-0.02,0,0.02,0.04],"format":".2f","labelExpr":"round(datum.value*100) % 4 == 0 ? datum.label : ''"}},"y":{"field":"y","type":"quantitative","scale":{"domain":[-0.0562,0.0324],"nice":false,"zero":false},"axis":{"title":"PC2 13.71%","values":[-0.04,-0.02,0,0.02],"format":".2f"}},"order":{"field":"o","type":"quantitative"}}},
    {"data":{"name":"p5b"},"mark":{"type":"line","color":"#231f20","strokeWidth":1},"encoding":{"x":{"field":"x","type":"quantitative"},"y":{"field":"y","type":"quantitative"},"order":{"field":"o","type":"quantitative"}}},
    {"data":{"name":"p5b"},"mark":{"type":"line","color":"#231f20","strokeWidth":5,"strokeDash":[5,12],"strokeCap":"round"},"encoding":{"x":{"field":"x","type":"quantitative"},"y":{"field":"y","type":"quantitative"},"order":{"field":"o","type":"quantitative"}}},
    {"data":{"name":"p5"},"mark":{"type":"circle","opacity":1},"encoding":{"x":{"field":"x","type":"quantitative"},"y":{"field":"y","type":"quantitative"},"color":{"field":"g","type":"nominal","scale":{"domain":["Controls","g+p-","HCM"],"range":["#4cb848","#e8262b","#231f20"]},"legend":{"title":null}},"size":{"field":"w","type":"quantitative","scale":{"domain":[1,5],"range":[80,500],"zero":false},"legend":null}}},
    {"data":{"name":"p5r"},"mark":{"type":"line","color":"#231f20","strokeWidth":1},"encoding":{"x":{"field":"x","type":"quantitative"},"y":{"field":"y","type":"quantitative"},"detail":{"field":"t","type":"nominal"},"order":{"field":"o","type":"quantitative"}}},
    {"data":{"name":"p5r"},"mark":{"type":"line","color":"#e8262b","strokeWidth":5,"strokeDash":[6,9],"strokeCap":"round"},"encoding":{"x":{"field":"x","type":"quantitative"},"y":{"field":"y","type":"quantitative"},"detail":{"field":"t","type":"nominal"},"order":{"field":"o","type":"quantitative"}}}
   ]},
  {"width":266,"height":273,"title":{"text":["Endocardial trajectories","shape space"],"offset":6,"lineHeight":24,"dx":14},
   "layer":[
    {"data":{"values":[{}]},"mark":{"type":"rule","color":"#231f20","strokeWidth":1.5},"encoding":{"x":{"datum":0,"type":"quantitative"}}},
    {"data":{"values":[{}]},"mark":{"type":"rule","color":"#231f20","strokeWidth":1.5},"encoding":{"y":{"datum":0,"type":"quantitative"}}},
    {"data":{"name":"p6g"},"mark":{"type":"line","color":"#4cb848","strokeWidth":4.5,"strokeJoin":"round"},"encoding":{"x":{"field":"x","type":"quantitative","scale":{"domain":[-0.112,0.139],"nice":false,"zero":false},"axis":{"title":"PC1 55.67%","titlePadding":9,"values":[-0.1,-0.05,0,0.05,0.1],"format":".2f","labelExpr":"abs(datum.value + 0.05) < 0.001 ? '' : datum.label"}},"y":{"field":"y","type":"quantitative","scale":{"domain":[-0.0486,0.0572],"nice":false,"zero":false},"axis":{"title":"PC2 12.14%","values":[-0.04,-0.02,0,0.02,0.04],"format":".2f","labelExpr":"abs(datum.value + 0.02) < 0.001 ? '' : datum.label"}},"order":{"field":"o","type":"quantitative"}}},
    {"data":{"name":"p6b"},"mark":{"type":"line","color":"#231f20","strokeWidth":1},"encoding":{"x":{"field":"x","type":"quantitative"},"y":{"field":"y","type":"quantitative"},"order":{"field":"o","type":"quantitative"}}},
    {"data":{"name":"p6b"},"mark":{"type":"line","color":"#231f20","strokeWidth":5,"strokeDash":[5,12],"strokeCap":"round"},"encoding":{"x":{"field":"x","type":"quantitative"},"y":{"field":"y","type":"quantitative"},"order":{"field":"o","type":"quantitative"}}},
    {"data":{"name":"p6"},"mark":{"type":"circle","opacity":1},"encoding":{"x":{"field":"x","type":"quantitative"},"y":{"field":"y","type":"quantitative"},"color":{"field":"g","type":"nominal","scale":{"domain":["Controls","g+p-","HCM"],"range":["#4cb848","#e8262b","#231f20"]},"legend":{"title":null}},"size":{"field":"w","type":"quantitative","scale":{"domain":[1,5],"range":[80,500],"zero":false},"legend":null}}},
    {"data":{"name":"p6r"},"mark":{"type":"line","color":"#231f20","strokeWidth":1},"encoding":{"x":{"field":"x","type":"quantitative"},"y":{"field":"y","type":"quantitative"},"detail":{"field":"t","type":"nominal"},"order":{"field":"o","type":"quantitative"}}},
    {"data":{"name":"p6r"},"mark":{"type":"line","color":"#e8262b","strokeWidth":5,"strokeDash":[6,9],"strokeCap":"round"},"encoding":{"x":{"field":"x","type":"quantitative"},"y":{"field":"y","type":"quantitative"},"detail":{"field":"t","type":"nominal"},"order":{"field":"o","type":"quantitative"}}}
   ]}
 ]},
 {"spacing":19,"hconcat":[
  {"width":273,"height":273,
   "layer":[
    {"data":{"values":[{}]},"mark":{"type":"rule","color":"#231f20","strokeWidth":1.5},"encoding":{"x":{"datum":0,"type":"quantitative"}}},
    {"data":{"values":[{}]},"mark":{"type":"rule","color":"#231f20","strokeWidth":1.5},"encoding":{"y":{"datum":0,"type":"quantitative"}}},
    {"data":{"name":"p7g"},"mark":{"type":"line","color":"#4cb848","strokeWidth":4.5,"strokeJoin":"round"},"encoding":{"x":{"field":"x","type":"quantitative","scale":{"domain":[-0.0831,0.0572],"nice":false,"zero":false},"axis":{"title":"PC1 48.27%","titlePadding":9,"values":[-0.08,-0.06,-0.04,-0.02,0,0.02,0.04],"format":".2f","labelExpr":"round(datum.value*100) % 4 == 0 ? datum.label : ''"}},"y":{"field":"y","type":"quantitative","scale":{"domain":[-0.0464,0.0286],"nice":false,"zero":false},"axis":{"title":"PC3 10.97%","values":[-0.04,-0.03,-0.02,-0.01,0,0.01,0.02],"format":".2f","labelExpr":"round(datum.value*100) % 2 == 0 ? datum.label : ''"}},"order":{"field":"o","type":"quantitative"}}},
    {"data":{"name":"p7b"},"mark":{"type":"line","color":"#231f20","strokeWidth":1},"encoding":{"x":{"field":"x","type":"quantitative"},"y":{"field":"y","type":"quantitative"},"order":{"field":"o","type":"quantitative"}}},
    {"data":{"name":"p7b"},"mark":{"type":"line","color":"#231f20","strokeWidth":5,"strokeDash":[5,12],"strokeCap":"round"},"encoding":{"x":{"field":"x","type":"quantitative"},"y":{"field":"y","type":"quantitative"},"order":{"field":"o","type":"quantitative"}}},
    {"data":{"name":"p7"},"mark":{"type":"circle","opacity":1},"encoding":{"x":{"field":"x","type":"quantitative"},"y":{"field":"y","type":"quantitative"},"color":{"field":"g","type":"nominal","scale":{"domain":["Controls","g+p-","HCM"],"range":["#4cb848","#e8262b","#231f20"]},"legend":{"title":null}},"size":{"field":"w","type":"quantitative","scale":{"domain":[1,5],"range":[80,500],"zero":false},"legend":null}}},
    {"data":{"name":"p7r"},"mark":{"type":"line","color":"#e8262b","strokeWidth":5,"strokeCap":"round"},"encoding":{"x":{"field":"x","type":"quantitative"},"y":{"field":"y","type":"quantitative"},"detail":{"field":"t","type":"nominal"},"order":{"field":"o","type":"quantitative"}}}
   ]},
  {"width":263,"height":272,
   "layer":[
    {"data":{"values":[{}]},"mark":{"type":"rule","color":"#231f20","strokeWidth":1.5},"encoding":{"x":{"datum":0,"type":"quantitative"}}},
    {"data":{"values":[{}]},"mark":{"type":"rule","color":"#231f20","strokeWidth":1.5},"encoding":{"y":{"datum":0,"type":"quantitative"}}},
    {"data":{"name":"p8g"},"mark":{"type":"line","color":"#4cb848","strokeWidth":4.5,"strokeJoin":"round"},"encoding":{"x":{"field":"x","type":"quantitative","scale":{"domain":[-0.111,0.138],"nice":false,"zero":false},"axis":{"title":"PC1 55.67%","titlePadding":9,"values":[-0.1,-0.05,0,0.05,0.1],"format":".2f","labelExpr":"abs(datum.value + 0.05) < 0.001 ? '' : datum.label"}},"y":{"field":"y","type":"quantitative","scale":{"domain":[-0.04,0.0378],"nice":false,"zero":false},"axis":{"title":"PC3\u00a0 6.87%","values":[-0.04,-0.02,0,0.02],"format":".2f"}},"order":{"field":"o","type":"quantitative"}}},
    {"data":{"name":"p8b"},"mark":{"type":"line","color":"#231f20","strokeWidth":1},"encoding":{"x":{"field":"x","type":"quantitative"},"y":{"field":"y","type":"quantitative"},"order":{"field":"o","type":"quantitative"}}},
    {"data":{"name":"p8b"},"mark":{"type":"line","color":"#231f20","strokeWidth":5,"strokeDash":[5,12],"strokeCap":"round"},"encoding":{"x":{"field":"x","type":"quantitative"},"y":{"field":"y","type":"quantitative"},"order":{"field":"o","type":"quantitative"}}},
    {"data":{"name":"p8"},"mark":{"type":"circle","opacity":1},"encoding":{"x":{"field":"x","type":"quantitative"},"y":{"field":"y","type":"quantitative"},"color":{"field":"g","type":"nominal","scale":{"domain":["Controls","g+p-","HCM"],"range":["#4cb848","#e8262b","#231f20"]},"legend":{"title":null}},"size":{"field":"w","type":"quantitative","scale":{"domain":[1,5],"range":[80,500],"zero":false},"legend":null}}},
    {"data":{"name":"p8r"},"mark":{"type":"line","color":"#231f20","strokeWidth":1},"encoding":{"x":{"field":"x","type":"quantitative"},"y":{"field":"y","type":"quantitative"},"detail":{"field":"t","type":"nominal"},"order":{"field":"o","type":"quantitative"}}},
    {"data":{"name":"p8r"},"mark":{"type":"line","color":"#e8262b","strokeWidth":5,"strokeDash":[6,9],"strokeCap":"round"},"encoding":{"x":{"field":"x","type":"quantitative"},"y":{"field":"y","type":"quantitative"},"detail":{"field":"t","type":"nominal"},"order":{"field":"o","type":"quantitative"}}}
   ]}
 ]}
 ]}
]
}
